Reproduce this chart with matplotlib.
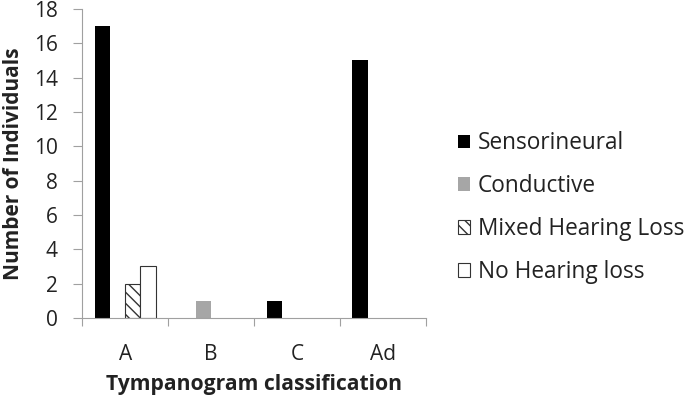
import numpy as np
import matplotlib.pyplot as plt

plt.rcParams['font.family'] = ['Open Sans', 'DejaVu Sans']
plt.rcParams['hatch.linewidth'] = 1.0

categories = ["A", "B", "C", "Ad"]
sensorineural = [17, 0, 1, 15]
conductive = [0, 1, 0, 0]
mixed = [2, 0, 0, 0]
no_loss = [3, 0, 0, 0]

fig = plt.figure(figsize=(6.85, 4.03), dpi=100)
ax = fig.add_axes([0.120, 0.211, 0.502, 0.767])

x = np.arange(len(categories))
w = 0.178
# no outline on empty (zero) bars
edge = lambda vals: ["#333333" if v else "none" for v in vals]
ax.bar(x - 1.5 * w, sensorineural, w, color="black", label="Sensorineural")
ax.bar(x - 0.5 * w, conductive, w, color="#a6a6a6", label="Conductive")
ax.bar(x + 0.5 * w, mixed, w, color="white", edgecolor=edge(mixed),
       hatch="\\\\\\", linewidth=0.8, label="Mixed Hearing Loss")
ax.bar(x + 1.5 * w, no_loss, w, color="white", edgecolor=edge(no_loss),
       linewidth=0.8, label="No Hearing loss")

ax.set_xlim(-0.5, 3.5)
ax.set_ylim(0, 18)
ax.set_yticks(range(0, 19, 2))
ax.set_xticks(x)
ax.set_xticklabels(categories, fontsize=15, color="#222222")
ax.set_xticks(np.arange(-0.5, 4, 1), minor=True)
ax.tick_params(axis="x", which="major", length=0, pad=19)
ax.tick_params(axis="x", which="minor", length=6, color="#a0a0a0", width=0.8)
ax.tick_params(axis="y", length=6.5, color="#a0a0a0", width=0.8, pad=11,
               labelsize=15, labelcolor="#222222")

for s in ["top", "right"]:
    ax.spines[s].set_visible(False)
for s in ["left", "bottom"]:
    ax.spines[s].set_color("#a0a0a0")
    ax.spines[s].set_linewidth(0.8)

ax.set_ylabel("Number of Individuals", fontsize=15, fontweight="bold",
              color="#222222", labelpad=7)
ax.set_xlabel("Tympanogram classification", fontsize=15.2, fontweight="bold",
              color="#222222", labelpad=6)

fig.legend(*ax.get_legend_handles_labels(), loc="center left",
           bbox_to_anchor=(0.668, 0.485), frameon=False, borderpad=0,
           borderaxespad=0, fontsize=16.3, handlelength=0.55,
           handleheight=0.55, handletextpad=0.35, labelspacing=0.83,
           labelcolor="#222222")

fig.savefig("out.png", dpi=100)
